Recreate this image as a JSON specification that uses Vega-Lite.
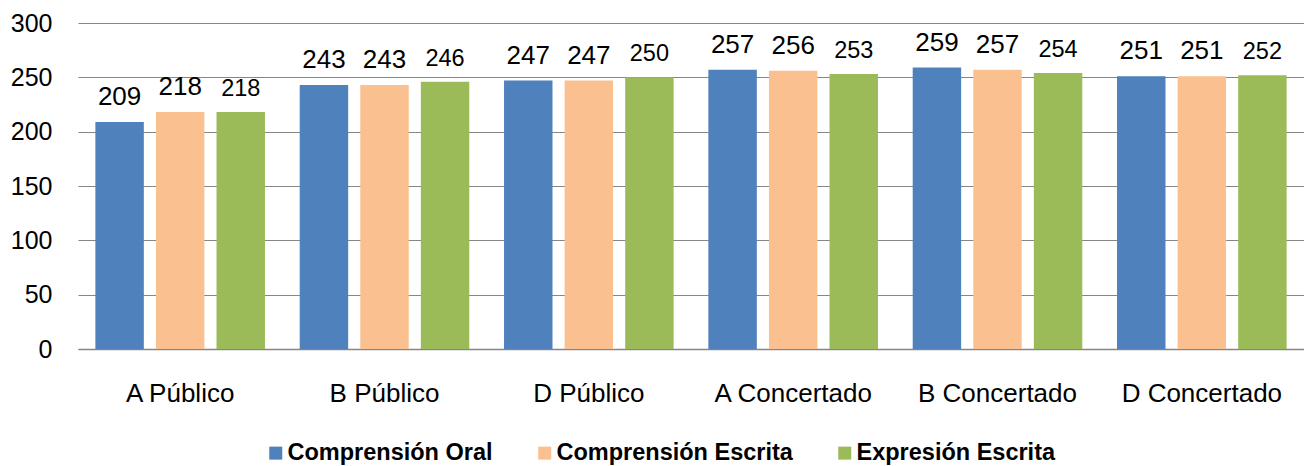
{
  "$schema": "https://vega.github.io/schema/vega-lite/v6.json",
  "autosize": "none",
  "width": 1226,
  "height": 326,
  "padding": {"left": 78, "top": 23, "right": 0, "bottom": 117},
  "background": "white",
  "config": {"view": {"stroke": null}, "font": "Liberation Sans"},
  "data": {
    "values": [
      {"centro": "A Público", "serie": "Comprensión Oral", "valor": 209},
      {"centro": "A Público", "serie": "Comprensión Escrita", "valor": 218},
      {"centro": "A Público", "serie": "Expresión Escrita", "valor": 218},
      {"centro": "B Público", "serie": "Comprensión Oral", "valor": 243},
      {"centro": "B Público", "serie": "Comprensión Escrita", "valor": 243},
      {"centro": "B Público", "serie": "Expresión Escrita", "valor": 246},
      {"centro": "D Público", "serie": "Comprensión Oral", "valor": 247},
      {"centro": "D Público", "serie": "Comprensión Escrita", "valor": 247},
      {"centro": "D Público", "serie": "Expresión Escrita", "valor": 250},
      {"centro": "A Concertado", "serie": "Comprensión Oral", "valor": 257},
      {"centro": "A Concertado", "serie": "Comprensión Escrita", "valor": 256},
      {"centro": "A Concertado", "serie": "Expresión Escrita", "valor": 253},
      {"centro": "B Concertado", "serie": "Comprensión Oral", "valor": 259},
      {"centro": "B Concertado", "serie": "Comprensión Escrita", "valor": 257},
      {"centro": "B Concertado", "serie": "Expresión Escrita", "valor": 254},
      {"centro": "D Concertado", "serie": "Comprensión Oral", "valor": 251},
      {"centro": "D Concertado", "serie": "Comprensión Escrita", "valor": 251},
      {"centro": "D Concertado", "serie": "Expresión Escrita", "valor": 252}
    ]
  },
  "encoding": {
    "x": {
      "field": "centro",
      "type": "nominal",
      "sort": ["A Público", "B Público", "D Público", "A Concertado", "B Concertado", "D Concertado"],
      "scale": {"paddingInner": 0.17, "paddingOuter": 0.085},
      "axis": {
        "title": null,
        "labelAngle": 0,
        "labelFontSize": 26,
        "labelColor": "black",
        "labelPadding": 31,
        "labelLimit": 400,
        "ticks": false,
        "domain": true,
        "domainColor": "#868686",
        "domainWidth": 1.5,
        "grid": false
      }
    },
    "xOffset": {
      "field": "serie",
      "type": "nominal",
      "sort": ["Comprensión Oral", "Comprensión Escrita", "Expresión Escrita"],
      "scale": {"paddingInner": 0.2, "paddingOuter": 0}
    },
    "y": {
      "field": "valor",
      "type": "quantitative",
      "scale": {"domain": [0, 300], "nice": false},
      "axis": {
        "title": null,
        "values": [0, 50, 100, 150, 200, 250, 300],
        "labelFontSize": 25,
        "labelColor": "black",
        "labelPadding": 26,
        "ticks": false,
        "domain": false,
        "grid": true,
        "gridColor": "#868686",
        "gridWidth": 1.2
      }
    }
  },
  "layer": [
    {
      "mark": {"type": "bar"},
      "encoding": {
        "color": {
          "field": "serie",
          "type": "nominal",
          "sort": ["Comprensión Oral", "Comprensión Escrita", "Expresión Escrita"],
          "scale": {"range": ["#4F81BD", "#FAC090", "#9BBB59"]},
          "legend": {
            "title": null,
            "orient": "none",
            "direction": "horizontal",
            "legendX": 186,
            "legendY": 418,
            "symbolType": "square",
            "symbolSize": 169,
            "symbolStrokeWidth": 0,
            "symbolOffset": 0,
            "labelFontSize": 23.5,
            "labelFontWeight": "bold",
            "labelColor": "black",
            "labelOffset": 0,
            "labelLimit": 500,
            "columnPadding": 40,
            "padding": 0
          }
        }
      }
    },
    {
      "transform": [{"filter": "datum.serie != 'Expresión Escrita'"}],
      "mark": {"type": "text", "baseline": "alphabetic", "dy": -17, "fontSize": 26, "color": "black"},
      "encoding": {"text": {"field": "valor", "type": "quantitative"}}
    },
    {
      "transform": [{"filter": "datum.serie == 'Expresión Escrita'"}],
      "mark": {"type": "text", "baseline": "alphabetic", "dy": -16, "fontSize": 23.5, "color": "black"},
      "encoding": {"text": {"field": "valor", "type": "quantitative"}}
    }
  ]
}
